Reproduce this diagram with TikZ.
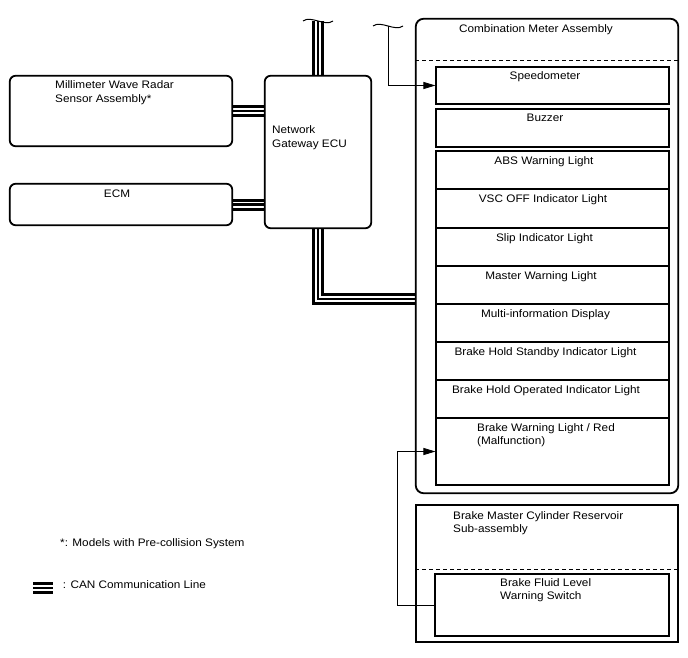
\documentclass[tikz,border=0pt]{standalone}
\usepackage{fontspec}
\setmainfont[FakeStretch=1.08]{Liberation Sans}
\usetikzlibrary{arrows.meta,calc}
\begin{document}
\begin{tikzpicture}[x=1pt,y=-1pt,
  font=\fontsize{10.9}{13.8}\selectfont,
  rbox/.style={draw, line width=1.1pt, inner sep=0pt, rounded corners=6pt},
  sbox/.style={draw, line width=1.1pt, inner sep=0pt},
  txt/.style={inner sep=0pt, align=left},
  can/.style={draw=black, line width=2.4pt, preaction={draw=black, line width=12pt}, preaction={draw=white, line width=6pt}},
  arr/.style={draw, line width=0.9pt, -{Triangle[length=12pt,width=7pt]}},
  tl/.style={draw, line width=1pt},
  dsh/.style={draw, line width=1pt, dash pattern=on 4pt off 3pt}
]
\useasboundingbox (0,0) rectangle (688,658);

% coordinates
\coordinate (tb) at (318,21);
\coordinate (t2) at (388,26);
\coordinate (busy) at (0,299);
\coordinate (bk) at (397,0);

% boxes (no text)
\node[rbox, minimum width=222pt, minimum height=70pt] (mm) at (121,111) {};
\node[rbox, minimum width=222pt, minimum height=41pt] (ecm) at (121,204.5) {};
\node[rbox, minimum width=106pt, minimum height=152pt] (gw) at (318,152) {};
\node[rbox, rounded corners=8pt, minimum width=262pt, minimum height=474pt] (meter) at (547,256) {};
\node[sbox, minimum width=262pt, minimum height=137pt] (bmc) at (547,573.5) {};

% CAN bus lines
\draw[can] (mm.east) -- (mm.east -| gw.west);
\draw[can] (ecm.east) -- (ecm.east -| gw.west);
\draw[can] (gw.north) -- (tb);
\draw[can] (gw.south) |- (meter.west |- busy);
\draw[can] (33,588) -- (53,588);

% redraw borders over bus ends
\draw[rbox] (mm.north west) rectangle (mm.south east);
\draw[rbox] (ecm.north west) rectangle (ecm.south east);
\draw[rbox] (gw.north west) rectangle (gw.south east);
\draw[rbox, rounded corners=8pt] (meter.north west) rectangle (meter.south east);

% dashed separators
\draw[dsh] (meter.west |- 0,61) -- (meter.east |- 0,61);
\draw[dsh] (bmc.west |- 0,569) -- (bmc.east |- 0,569);

% inner boxes of combination meter
\node[sbox, minimum width=233pt, minimum height=37pt] (spd) at (552.5,85.5) {};
\node[sbox, minimum width=233pt, minimum height=38pt] (buz) at (552.5,128) {};
\node[sbox, minimum width=233pt, minimum height=38pt] (abs) at (552.5,170) {};
\node[sbox, minimum width=233pt, minimum height=39pt] (vsc) at (552.5,208.5) {};
\node[sbox, minimum width=233pt, minimum height=38pt] (slip) at (552.5,247) {};
\node[sbox, minimum width=233pt, minimum height=38pt] (mwl) at (552.5,285) {};
\node[sbox, minimum width=233pt, minimum height=38pt] (mid) at (552.5,323) {};
\node[sbox, minimum width=233pt, minimum height=38pt] (bhs) at (552.5,361) {};
\node[sbox, minimum width=233pt, minimum height=38pt] (bho) at (552.5,399) {};
\node[sbox, minimum width=233pt, minimum height=67pt] (bwl) at (552.5,451.5) {};
\node[sbox, minimum width=234pt, minimum height=62pt] (bfl) at (552,605) {};

% tildes
\draw[tl] ($(tb)+(-15,0)$) .. controls ($(tb)+(-7,-6)$) and ($(tb)+(7,6)$) .. ($(tb)+(15,0)$);
\draw[tl] ($(t2)+(-15,0)$) .. controls ($(t2)+(-7,-6)$) and ($(t2)+(7,6)$) .. ($(t2)+(15,0)$);

% connectors
\draw[arr] (t2) |- (spd.west);
\draw[arr] (bfl.west) -- (bfl.west -| bk) |- (bwl.west);

% texts (multi-line nodes: base = last line)
\node[txt, anchor=base west] (mmt) at (55,102.3) {Millimeter Wave Radar\\Sensor Assembly*};
\node[txt, anchor=base] (ecmt) at (117,197) {ECM};
\node[txt, anchor=base west] (gwt) at (272,147.3) {Network\\Gateway ECU};
\node[txt, anchor=base] (metert) at (536,33) {Combination Meter Assembly};
\node[txt, anchor=base] (spdt) at (545,80) {Speedometer};
\node[txt, anchor=base] (buzt) at (545,122) {Buzzer};
\node[txt, anchor=base] (abst) at (544,164.5) {ABS Warning Light};
\node[txt, anchor=base] (vsct) at (543,202) {VSC OFF Indicator Light};
\node[txt, anchor=base] (slipt) at (544.5,241) {Slip Indicator Light};
\node[txt, anchor=base] (mwlt) at (541,279) {Master Warning Light};
\node[txt, anchor=base] (midt) at (545.5,317) {Multi-information Display};
\node[txt, anchor=base] (bhst) at (545.5,355) {Brake Hold Standby Indicator Light};
\node[txt, anchor=base] (bhot) at (546,393) {Brake Hold Operated Indicator Light};
\node[txt, anchor=base west] (bwlt) at (477,444.8) {Brake Warning Light / Red\\(Malfunction)};
\node[txt, anchor=base west] (bmct) at (453,532.8) {Brake Master Cylinder Reservoir\\Sub-assembly};
\node[txt, anchor=base west] (bflt) at (500,599.8) {Brake Fluid Level\\Warning Switch};
\node[txt, anchor=base west] (note) at (60,546) {*: Models with Pre-collision System};
\node[txt, anchor=base west] (leg) at (62.7,588) {: CAN Communication Line};
\end{tikzpicture}
\end{document}
